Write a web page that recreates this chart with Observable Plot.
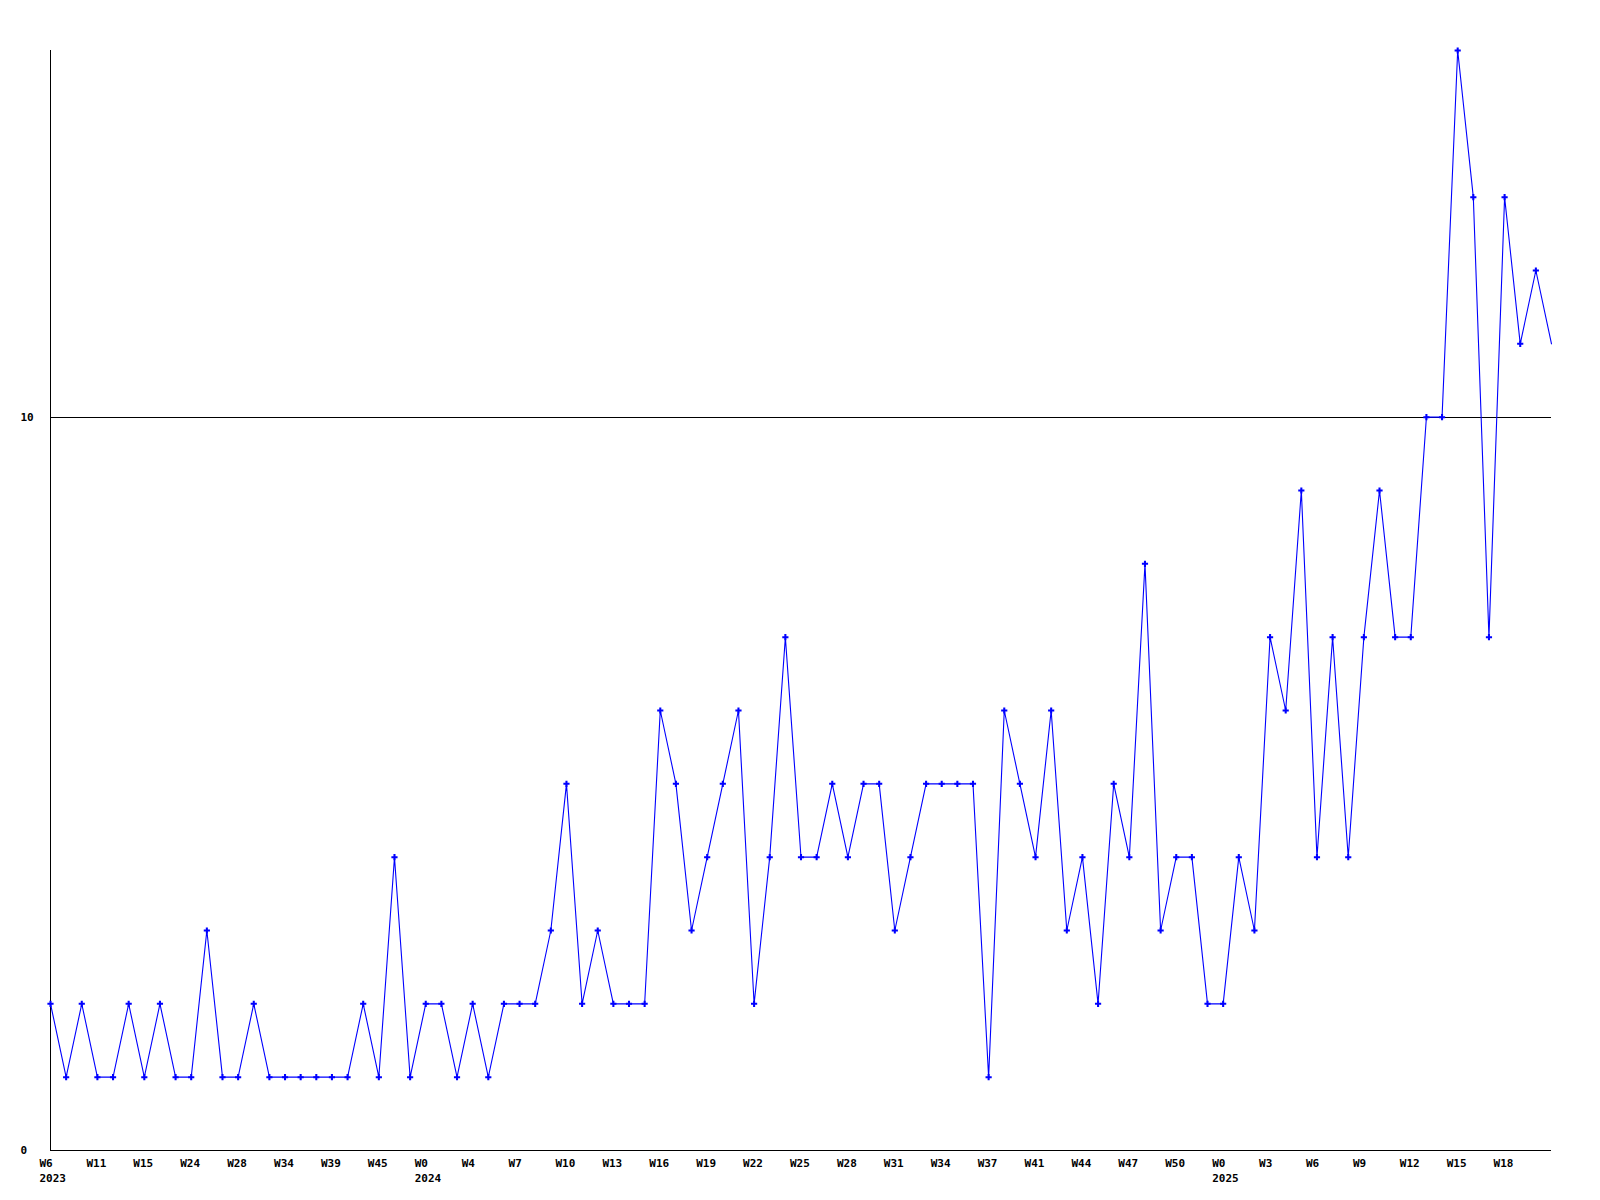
<!DOCTYPE html>
<html>
<head>
<meta charset="utf-8">
<script src="https://cdn.jsdelivr.net/npm/d3@7"></script>
<script src="https://cdn.jsdelivr.net/npm/@observablehq/plot@0.6"></script>
<style>
  html, body { margin: 0; padding: 0; background: #ffffff; }
  #chart { width: 1600px; height: 1200px; }
</style>
</head>
<body>
<div id="chart"></div>
<script>
// Weekly counts, one per point (index 0 = 2023 W6)
const values = [
  2,1,2,1,1,2,1,2,1,1,
  3,1,1,2,1,1,1,1,1,1,
  2,1,4,1,2,2,1,2,1,2,
  2,2,3,5,2,3,2,2,2,6,
  5,3,4,5,6,2,4,7,4,4,
  5,4,5,5,3,4,5,5,5,5,
  1,6,5,4,6,3,4,2,5,4,
  8,3,4,4,2,2,4,3,7,6,
  9,4,7,4,7,9,7,7,10,10,
  15,13,7,13,11,12,11
];

// Week tick labels, shown on every third point
const weekLabels = [
  "W6","W11","W15","W24","W28","W34","W39","W45",
  "W0","W4","W7","W10","W13","W16","W19","W22","W25","W28","W31","W34","W37","W41","W44","W47","W50",
  "W0","W3","W6","W9","W12","W15","W18"
];
const labelStep = 3;

// Year labels and the point index where each year starts
const yearLabels = ["2023", "2024", "2025"];
const yearIndex = [0, 24, 75];

// Y tick labels
const yTicks = [0, 10];

const data = values.map((v, i) => ({i, v}));
const ticks = weekLabels.map((t, k) => ({i: k * labelStep, t}));
const years = yearLabels.map((t, k) => ({i: yearIndex[k], t}));

const font = "DejaVu Sans Mono, Liberation Mono, monospace";

const chart = Plot.plot({
  width: 1600,
  height: 1200,
  marginLeft: 50,
  marginRight: 49,
  marginTop: 50,
  marginBottom: 50,
  x: {domain: [0, values.length - 1], axis: null},
  y: {domain: [0, 15], axis: null},
  style: {background: "#ffffff", fontFamily: font, fontSize: "11px"},
  marks: [
    Plot.ruleY([10], {stroke: "#000000", strokeWidth: 1, shapeRendering: "crispEdges"}),
    Plot.ruleY([0], {stroke: "#000000", strokeWidth: 1, shapeRendering: "crispEdges"}),
    Plot.ruleX([0], {y1: 0, y2: 15, stroke: "#000000", strokeWidth: 1, shapeRendering: "crispEdges"}),
    Plot.line(data, {x: "i", y: "v", stroke: "#0000ff", strokeWidth: 1.1}),
    Plot.dot(data.slice(0, -1), {x: "i", y: "v", symbol: "cross", fill: "#0000ff", r: 2.6}),
    Plot.text(yTicks, {y: d => d, text: d => String(d), frameAnchor: "left", dx: -30, textAnchor: "start", fill: "#000000", fontWeight: "bold", fontFamily: font, fontSize: 11}),
    Plot.text(ticks, {x: "i", y: () => 0, text: "t", dx: -11, dy: 12.5, textAnchor: "start", lineAnchor: "middle", fill: "#000000", fontWeight: "bold", fontFamily: font, fontSize: 11}),
    Plot.text(years, {x: "i", y: () => 0, text: "t", dx: -11, dy: 27.5, textAnchor: "start", lineAnchor: "middle", fill: "#000000", fontWeight: "bold", fontFamily: font, fontSize: 11})
  ]
});

document.getElementById("chart").appendChild(chart);
</script>
</body>
</html>
